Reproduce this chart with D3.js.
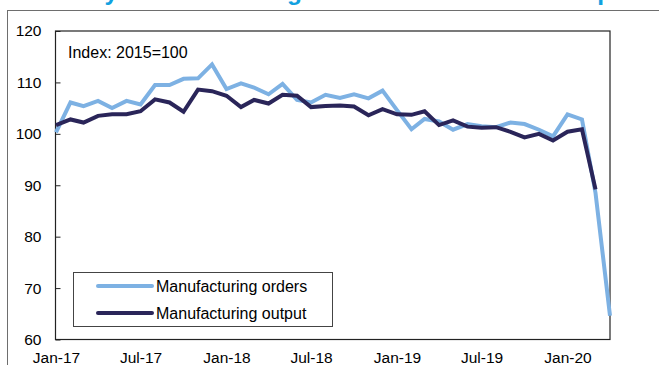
<!DOCTYPE html>
<html>
<head>
<meta charset="utf-8">
<script src="https://cdn.jsdelivr.net/npm/d3@7"></script>
<style>
  body { margin: 0; background: #fff; }
  svg { display: block; font-family: "Liberation Sans", Arial, sans-serif; }
</style>
</head>
<body>
<div id="chart"></div>
<script>
// monthly index values, Jan-17 .. Apr-20 (2015=100)
var months = ["2017-01","2017-02","2017-03","2017-04","2017-05","2017-06","2017-07","2017-08","2017-09","2017-10","2017-11","2017-12",
  "2018-01","2018-02","2018-03","2018-04","2018-05","2018-06","2018-07","2018-08","2018-09","2018-10","2018-11","2018-12",
  "2019-01","2019-02","2019-03","2019-04","2019-05","2019-06","2019-07","2019-08","2019-09","2019-10","2019-11","2019-12",
  "2020-01","2020-02","2020-03","2020-04"];

var orders = [100.3,106.1,105.4,106.4,105.0,106.4,105.7,109.5,109.5,110.7,110.8,113.5,
  108.7,109.8,109.0,107.7,109.7,106.6,106.1,107.6,107.0,107.7,106.9,108.4,
  104.6,100.9,102.9,102.4,100.8,101.9,101.5,101.3,102.2,101.9,100.8,99.5,
  103.8,102.8,88.5,64.6];

var output = [101.7,102.8,102.2,103.5,103.8,103.8,104.4,106.7,106.1,104.3,108.6,108.3,
  107.4,105.2,106.6,105.9,107.6,107.4,105.2,105.4,105.5,105.3,103.6,104.8,
  103.8,103.7,104.4,101.7,102.6,101.4,101.2,101.3,100.4,99.3,100.0,98.7,
  100.4,100.9,89.2];

var seriesNames = ["Manufacturing orders", "Manufacturing output"];
var colors = ["#7db1e3", "#2a2559"];
var xTicks = ["2017-01","2017-07","2018-01","2018-07","2019-01","2019-07","2020-01"];
var yTicks = [60, 70, 80, 90, 100, 110, 120];

var W = 659, H = 365;
var plot = {left: 55.5, top: 31, right: 610, bottom: 339.5};

var parseMonth = d3.timeParse("%Y-%m");
var dates = months.map(parseMonth);

var svg = d3.select("#chart").append("svg")
    .attr("width", W)
    .attr("height", H);

// title sits above the window, only its descenders show
svg.append("text")
    .attr("x", 12)
    .attr("y", 0)
    .style("font-size", "24.5px")
    .style("font-weight", "bold")
    .style("fill", "#12a1e0")
    .text("Germany: Manufacturing orders and industrial output");

// outer frame
svg.append("rect")
    .attr("x", 7.5)
    .attr("y", 10.5)
    .attr("width", 700)
    .attr("height", 400)
    .attr("fill", "#fff")
    .attr("stroke", "#6e6e6e")
    .attr("stroke-width", 1);

var x = d3.scaleTime()
    .domain([parseMonth("2017-01"), parseMonth("2020-04")])
    .range([plot.left + 0.5, plot.right]);

var y = d3.scaleLinear()
    .domain([60, 120])
    .range([plot.bottom, plot.top]);

svg.append("rect")
    .attr("x", plot.left)
    .attr("y", plot.top)
    .attr("width", plot.right - plot.left)
    .attr("height", plot.bottom - plot.top)
    .attr("fill", "#fff")
    .attr("stroke", "#222")
    .attr("stroke-width", 1.2);

var yAxis = d3.axisLeft(y)
    .tickValues(yTicks)
    .tickSize(-5)
    .tickPadding(14);

var gy = svg.append("g")
    .attr("transform", "translate(" + plot.left + ",0)")
    .call(yAxis);
gy.select(".domain").remove();
gy.selectAll("text").style("font-size", "15.5px").attr("fill", "#000");
gy.selectAll("line").attr("stroke", "#222");

var xAxis = d3.axisBottom(x)
    .tickValues(xTicks.map(parseMonth))
    .tickFormat(d3.timeFormat("%b-%y"))
    .tickSize(0)
    .tickPadding(12.5);

var gx = svg.append("g")
    .attr("transform", "translate(0," + plot.bottom + ")")
    .call(xAxis);
gx.select(".domain").remove();
gx.selectAll("text").style("font-size", "15.5px").attr("fill", "#000");

svg.append("text")
    .attr("x", 68)
    .attr("y", 58)
    .style("font-size", "16px")
    .style("fill", "#000")
    .text("Index: 2015=100");

var line = d3.line()
    .x(function(d, i) { return x(dates[i]); })
    .y(function(d) { return y(d); });

[orders, output].forEach(function(vals, k) {
    svg.append("path")
        .datum(vals)
        .attr("d", line)
        .attr("fill", "none")
        .attr("stroke", colors[k])
        .attr("stroke-width", 4)
        .attr("stroke-linejoin", "miter");
});

// legend
var legend = svg.append("g").attr("transform", "translate(73,272)");
legend.append("rect")
    .attr("x", 0.5)
    .attr("y", 0.5)
    .attr("width", 259)
    .attr("height", 54)
    .attr("fill", "#fff")
    .attr("stroke", "#444")
    .attr("stroke-width", 1);

var item = legend.selectAll(".item")
    .data(seriesNames).enter()
    .append("g")
    .attr("class", "item")
    .attr("transform", function(d, i) { return "translate(0," + (14 + 27 * i) + ")"; });

item.append("line")
    .attr("x1", 25).attr("x2", 79)
    .attr("y1", 0).attr("y2", 0)
    .attr("stroke", function(d, i) { return colors[i]; })
    .attr("stroke-width", 4)
    .attr("stroke-linecap", "round");

item.append("text")
    .attr("x", 83)
    .attr("y", 5.5)
    .style("font-size", "16px")
    .style("fill", "#000")
    .text(function(d) { return d; });
</script>
</body>
</html>
